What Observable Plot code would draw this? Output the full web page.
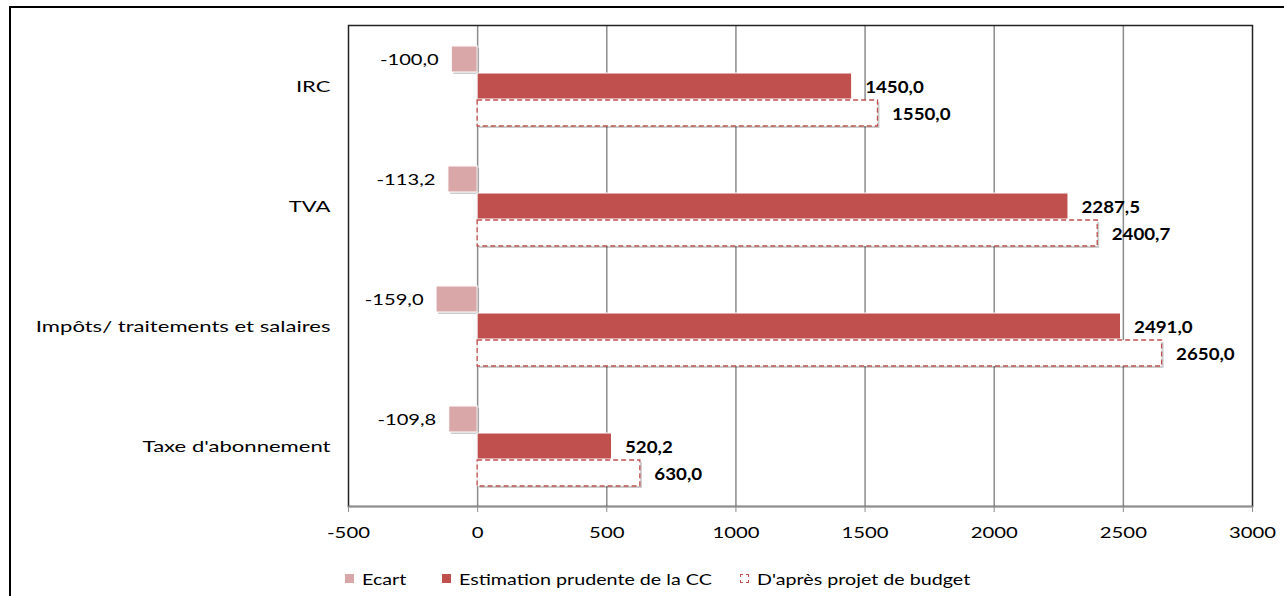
<!DOCTYPE html>
<html>
<head>
<meta charset="utf-8">
<script src="https://cdn.jsdelivr.net/npm/d3@7"></script>
<script src="https://cdn.jsdelivr.net/npm/@observablehq/plot@0.6"></script>
<style>
  html, body { margin: 0; padding: 0; background: #fff; overflow: hidden; }
  body { width: 1284px; height: 596px; position: relative; font-family: Lato, "Open Sans", sans-serif; }
  #border { position: absolute; left: 9px; top: 6px; width: 1400px; height: 700px; border: 2px solid #000; box-sizing: border-box; }
  #chart { position: absolute; left: 0; top: 0; }
  #legend { position: absolute; top: 568px; left: 0; width: 1284px; height: 20px; font-size: 16px; color: #000; }
  .item { position: absolute; top: 0; display: flex; align-items: center; height: 20px; white-space: nowrap; }
  .sw { width: 9px; height: 9px; margin-right: 8px; box-sizing: border-box; flex: none; }
  .lab { display: inline-block; transform: scaleX(1.23); transform-origin: left center; }
</style>
</head>
<body>
<div id="border"></div>
<div id="chart"></div>
<div id="legend"></div>
<script>
const categories = ["IRC", "TVA", "Impôts/ traitements et salaires", "Taxe d'abonnement"];
const ecart = [-100.0, -113.2, -159.0, -109.8];
const estimation = [1450.0, 2287.5, 2491.0, 520.2];
const budget = [1550.0, 2400.7, 2650.0, 630.0];
const xTicks = [-500, 0, 500, 1000, 1500, 2000, 2500, 3000];
const seriesNames = ["Ecart", "Estimation prudente de la CC", "D'après projet de budget"];

const rows = categories.map((c, i) => ({cat: c, ecart: ecart[i], est: estimation[i], bud: budget[i]}));
const fmt = v => v.toFixed(1).replace(".", ",");

const RED = "#C0504D";
const PINK = "#D9A7A7";
const FONT = 16;

const plot = Plot.plot({
  width: 1284,
  height: 560,
  marginLeft: 348,
  marginRight: 32,
  marginTop: 25,
  marginBottom: 54,
  style: {fontFamily: "Lato, 'Open Sans', sans-serif", fontSize: FONT + "px", color: "#000", background: "transparent"},
  x: {domain: [-500, 3000]},
  y: {type: "band", domain: categories, paddingInner: 0, paddingOuter: 0},
  marks: [
    Plot.ruleX(xTicks.filter(d => d > -500 && d < 3000), {stroke: "#8c8c8c", strokeWidth: 1.5}),
    // shadows
    Plot.barX(rows, {x1: 0, x2: "ecart", y: "cat", insetTop: 20, insetBottom: 74, dx: 2, dy: 2, fill: "#000", fillOpacity: 0.2}),
    Plot.barX(rows, {x1: 0, x2: "bud", y: "cat", insetTop: 74, insetBottom: 20, dx: 2, dy: 2, fill: "#000", fillOpacity: 0.2}),
    // bars
    Plot.barX(rows, {x1: 0, x2: "ecart", y: "cat", insetTop: 20, insetBottom: 74, fill: PINK, stroke: "#fff", strokeWidth: 1}),
    Plot.barX(rows, {x1: 0, x2: "est", y: "cat", insetTop: 47, insetBottom: 47, fill: RED, stroke: "#fff", strokeWidth: 1}),
    Plot.barX(rows, {x1: 0, x2: "bud", y: "cat", insetTop: 74, insetBottom: 20, fill: "#fff", stroke: RED, strokeWidth: 1.3, strokeDasharray: "5,3"}),
    // value labels
    Plot.text(rows, {x: "ecart", y: "cat", text: d => fmt(d.ecart), textAnchor: "end", dx: -13, dy: -27, fontSize: FONT}),
    Plot.text(rows, {x: "est", y: "cat", text: d => fmt(d.est), textAnchor: "start", dx: 13, dy: 1, fontSize: 17, fontWeight: "bold"}),
    Plot.text(rows, {x: "bud", y: "cat", text: d => fmt(d.bud), textAnchor: "start", dx: 14, dy: 28, fontSize: 17, fontWeight: "bold"}),
    Plot.frame({stroke: "#222", strokeWidth: 1.5}),
    Plot.frame({anchor: "bottom", stroke: "#8c8c8c", strokeWidth: 1.5}),
    Plot.axisX({ticks: xTicks, tickFormat: d => String(d), tickSize: 6, tickPadding: 14, stroke: "#8c8c8c", label: null, fontSize: FONT}),
    Plot.axisY({tickSize: 0, tickPadding: 18, label: null, fontSize: FONT})
  ]
});
document.getElementById("chart").appendChild(plot);

// Horizontally widen the lettering like the reference rendering
function stretch(nodes, f) {
  nodes.forEach(t => {
    const L = t.getComputedTextLength();
    if (L > 0) {
      t.setAttribute("textLength", (L * f).toFixed(1));
      t.setAttribute("lengthAdjust", "spacingAndGlyphs");
    }
  });
}
const svg = plot.tagName.toLowerCase() === "svg" ? plot : plot.querySelector("svg");
stretch(svg.querySelectorAll('g[aria-label="y-axis tick label"] text'), 1.38);
stretch(svg.querySelectorAll('g[aria-label="x-axis tick label"] text'), 1.27);
const textGroups = svg.querySelectorAll('g[aria-label="text"]');
if (textGroups[0]) stretch(textGroups[0].querySelectorAll("text"), 1.26);
if (textGroups[1]) stretch(textGroups[1].querySelectorAll("text"), 1.1);
if (textGroups[2]) stretch(textGroups[2].querySelectorAll("text"), 1.1);

const legend = document.getElementById("legend");
const lefts = [345, 442, 740];
const swStyles = [
  `background:${PINK};`,
  `background:${RED};`,
  `background:#fff;border:1.3px dashed ${RED};`
];
seriesNames.forEach((name, i) => {
  const it = document.createElement("div");
  it.className = "item";
  it.style.left = lefts[i] + "px";
  it.innerHTML = `<span class="sw" style="${swStyles[i]}"></span><span class="lab">${name}</span>`;
  legend.appendChild(it);
});
</script>
</body>
</html>
